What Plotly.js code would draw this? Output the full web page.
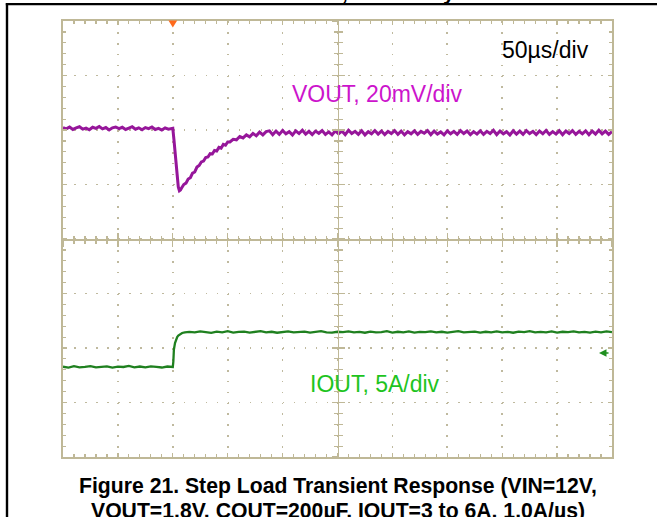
<!DOCTYPE html>
<html><head><meta charset="utf-8">
<script src="https://cdn.plot.ly/plotly-3.0.1.min.js"></script>
<style>html,body{margin:0;padding:0;background:#fff;}#chart{width:657px;height:517px;}</style>
</head><body><div id="chart"></div>
<script>
// ---- scope settings ----
const timePerDiv = 50;      // µs/div
const voutPerDiv = 20;      // mV/div
const ioutPerDiv = 5;       // A/div
const triggerTime = 100;    // µs
const voutCenter = -40.6;   // mV (deviation) at screen centre
const ioutCenter = 14.74;   // A at screen centre

// ---- VOUT (deviation from 1.8 V, mV) ----
const voutTime = [0,3,6,9,12,15,18,21,24,27,30,33,36,39,42,45,48,51,54,57,60,63,66,69,72,75,78,81,84,87,90,93,96,99,
  100,101,102,103,104,105,106,107,108,109,
  110,112,114,116,118,120,122,124,126,128,130,132,134,136,138,140,142,144,146,148,150,152,
  155,158,161,164,167,170,173,176,179,182,185,
  188,191,194,197,200,203,206,209,212,215,218,221,224,227,230,233,236,239,242,245,
  248,251,254,257,260,263,266,269,272,275,278,281,284,287,290,293,296,299,302,305,
  308,311,314,317,320,323,326,329,332,335,338,341,344,347,350,353,356,359,362,365,
  368,371,374,377,380,383,386,389,392,395,398,401,404,407,410,413,416,419,422,425,
  428,431,434,437,440,443,446,449,452,455,458,461,464,467,470,473,476,479,482,485,
  488,491,494,497,500];
const voutDev = [0.3,-0.2,0.5,-0.4,0.2,0.6,-0.3,0.1,-0.5,0.4,0.0,0.7,-0.2,0.3,-0.6,0.2,0.5,-0.1,0.4,-0.4,0.1,0.6,-0.3,0.2,-0.5,0.3,-0.1,0.5,-0.4,0.0,-0.6,0.2,-0.3,0.1,
  0,-4,-9,-14,-18.5,-21.5,-22.9,-22.6,-21.9,-21.2,
  -20.6,-20.1,-18.6,-18.1,-16.4,-16.0,-14.2,-13.6,-12.3,-12.0,-10.7,-10.5,-9.3,-9.4,-8.1,-8.3,-7.0,-7.3,-5.9,-6.2,-5.0,-5.0,
  -4.0,-4.2,-3.0,-3.5,-2.4,-3.1,-1.9,-2.7,-1.4,-2.4,-1.2,
  -0.9,-2.3,-1.0,-2.2,-0.8,-2.0,-1.2,-2.4,-0.9,-1.9,-0.7,-2.1,-1.1,-2.3,-1.0,-1.8,-0.8,-2.2,-1.3,-2.4,
  -0.9,-2.0,-1.0,-2.3,-0.7,-1.9,-1.1,-2.2,-0.9,-2.4,-1.2,-2.0,-0.8,-2.1,-1.0,-2.3,-1.1,-1.9,-0.8,-2.2,
  -1.0,-2.4,-1.2,-2.0,-0.9,-2.2,-1.1,-1.8,-0.8,-2.3,-1.0,-2.1,-1.3,-2.4,-0.9,-2.0,-1.1,-2.2,-0.8,-1.9,
  -1.0,-2.3,-1.2,-2.1,-0.9,-2.2,-1.1,-1.9,-0.7,-2.3,-1.0,-2.0,-1.2,-2.4,-0.9,-2.1,-1.0,-2.2,-0.8,-1.9,
  -1.1,-2.3,-1.0,-2.0,-0.8,-2.2,-1.2,-2.1,-0.9,-2.3,-1.0,-1.9,-0.8,-2.2,-1.1,-2.0,-0.9,-2.3,-1.0,-2.1,
  -0.7,-2.0,-1.0,-2.2,-1.2];

// ---- IOUT (A) ----
const ioutTime = [0,5,10,15,20,25,30,35,40,45,50,55,60,65,70,75,80,85,90,95,99,
  100,100.5,101,102,103,104,105,106.5,108.5,111,115,
  120,125,130,135,140,145,150,155,160,165,170,175,180,185,190,195,200,205,210,215,
  220,225,230,235,240,245,250,255,260,265,270,275,280,285,290,295,300,305,310,315,
  320,325,330,335,340,345,350,355,360,365,370,375,380,385,390,395,400,405,410,415,
  420,425,430,435,440,445,450,455,460,465,470,475,480,485,490,495,500];
const ioutAmps = [3.02,2.94,3.07,2.97,3.00,3.08,2.96,3.02,3.05,2.94,3.03,3.00,3.09,2.97,3.04,2.96,3.06,3.00,2.95,3.04,3.01,
  3.0,3.5,4.6,5.2,5.55,5.75,5.88,6.0,6.12,6.18,6.22,
  6.17,6.26,6.20,6.13,6.24,6.18,6.28,6.16,6.22,6.25,
  6.15,6.21,6.29,6.18,6.23,6.14,6.22,6.27,6.17,6.20,
  6.24,6.16,6.22,6.28,6.18,6.15,6.23,6.20,6.26,6.17,
  6.22,6.14,6.24,6.18,6.20,6.28,6.16,6.23,6.18,6.26,
  6.15,6.22,6.20,6.27,6.17,6.23,6.16,6.22,6.29,6.18,
  6.20,6.24,6.15,6.23,6.18,6.26,6.17,6.22,6.14,6.24,
  6.20,6.28,6.17,6.22,6.18,6.26,6.16,6.23,6.20,6.27,
  6.17,6.22,6.15,6.24,6.18,6.26,6.20];

// ---- texts ----
const timebaseLabel = '50µs/div';
const voutLabel = 'VOUT, 20mV/div';
const ioutLabel = 'IOUT, 5A/div';
const captionLine1 = 'Figure 21. Step Load Transient Response (VIN=12V,';
const captionLine2 = 'VOUT=1.8V, COUT=200µF, IOUT=3 to 6A, 1.0A/µs)';

// ---- layout helpers ----
const W = 657, H = 517, L = 63, R = 612, T = 21, B = 457;
const PX = x => (x - L) / (R - L);
const PY = y => (B - y) / (B - T);
const TAN = '#bfb897', DOT = '#bfb99e';
const FONT = '"Liberation Sans", Arial, sans-serif';
const nDivX = 10, nDivY = 8;

const xRange = [0, nDivX * timePerDiv];
const vRange = [voutCenter - nDivY/2 * voutPerDiv, voutCenter + nDivY/2 * voutPerDiv];
const iRange = [ioutCenter - nDivY/2 * ioutPerDiv, ioutCenter + nDivY/2 * ioutPerDiv];

const baseX = {range: xRange, tick0: 0, dtick: timePerDiv, showticklabels: false, zeroline: false, fixedrange: true};
const baseY = {range: vRange, tick0: voutCenter, dtick: voutPerDiv, showticklabels: false, zeroline: false, fixedrange: true};

// empty traces only register the centre-crosshair axes so Plotly draws them
const axisHolders = [['x2','y'],['x3','y'],['x','y3'],['x','y4']].map(([xa, ya]) =>
  ({type: 'scatter', mode: 'lines', x: [], y: [], xaxis: xa, yaxis: ya, hoverinfo: 'skip', showlegend: false}));

const traces = axisHolders.concat([
  {type: 'scatter', mode: 'lines', x: ioutTime, y: ioutAmps, xaxis: 'x', yaxis: 'y2',
   line: {color: '#1f801f', width: 2.3}, hoverinfo: 'skip', showlegend: false},
  {type: 'scatter', mode: 'lines', x: voutTime, y: voutDev, xaxis: 'x', yaxis: 'y',
   line: {color: '#96169a', width: 3}, hoverinfo: 'skip', showlegend: false}
]);

const centreTicks = (dir, minorDtick, tick0) => ({
  showgrid: false, showline: true, linecolor: TAN, linewidth: 1.5,
  ticks: dir, ticklen: 6, tickwidth: 1.3, tickcolor: TAN,
  minor: {dtick: minorDtick, tick0: tick0, ticks: dir, ticklen: 3.5, tickwidth: 1.2, tickcolor: TAN, showgrid: false}
});

const layout = {
  width: W, height: H, autosize: false,
  margin: {l: L, r: W - R, t: T, b: H - B, pad: 0},
  paper_bgcolor: '#fff', plot_bgcolor: '#fff', showlegend: false,
  xaxis: Object.assign({}, baseX, {
    showgrid: true, gridcolor: DOT, gridwidth: 1.6, griddash: '1.7px,9.2px',
    showline: true, linecolor: TAN, linewidth: 1.6, mirror: 'ticks',
    ticks: 'inside', ticklen: 4, tickwidth: 1.3, tickcolor: TAN,
    minor: {dtick: timePerDiv/5, tick0: 0, ticks: 'inside', ticklen: 2.7, tickwidth: 1.2, tickcolor: TAN, showgrid: false}
  }),
  yaxis: Object.assign({}, baseY, {
    showgrid: true, gridcolor: DOT, gridwidth: 1.6, griddash: '1.7px,9.28px',
    showline: true, linecolor: TAN, linewidth: 1.6, mirror: 'ticks',
    ticks: 'inside', ticklen: 4, tickwidth: 1.3, tickcolor: TAN,
    minor: {dtick: voutPerDiv/5, tick0: voutCenter, ticks: 'inside', ticklen: 3, tickwidth: 1.2, tickcolor: TAN, showgrid: false}
  }),
  yaxis2: {range: iRange, overlaying: 'y', showgrid: false, showline: false, ticks: '', showticklabels: false, zeroline: false, fixedrange: true},
  xaxis2: Object.assign({}, baseX, {overlaying: 'x', anchor: 'free', position: 0.5}, centreTicks('outside', timePerDiv/5, 0)),
  xaxis3: Object.assign({}, baseX, {overlaying: 'x', anchor: 'free', position: 0.5}, centreTicks('inside', timePerDiv/5, 0)),
  yaxis3: Object.assign({}, baseY, {overlaying: 'y', anchor: 'free', position: 0.5}, centreTicks('outside', voutPerDiv/5, voutCenter)),
  yaxis4: Object.assign({}, baseY, {overlaying: 'y', anchor: 'free', position: 0.5}, centreTicks('inside', voutPerDiv/5, voutCenter)),
  shapes: [
    // trigger marker
    {type: 'path', xref: 'x', yref: 'paper', layer: 'above',
     path: `M ${triggerTime-4},${PY(20.5)} L ${triggerTime+4},${PY(20.5)} L ${triggerTime},${PY(27.5)} Z`,
     fillcolor: '#ff6a1c', line: {width: 0}},
    // page frame
    {type: 'line', xref: 'paper', yref: 'paper', x0: PX(5.8), x1: PX(657), y0: PY(4.2), y1: PY(4.2), line: {color: '#000', width: 2.2}},
    {type: 'line', xref: 'paper', yref: 'paper', x0: PX(7), x1: PX(7), y0: PY(3.2), y1: PY(517), line: {color: '#000', width: 2.4}}
  ],
  annotations: [
    {text: timebaseLabel, xref: 'paper', yref: 'paper', x: PX(545), y: PY(50), showarrow: false,
     xanchor: 'center', yanchor: 'middle', font: {family: FONT, size: 23, color: '#000'}},
    {text: voutLabel, xref: 'paper', yref: 'paper', x: PX(376.5), y: PY(94), showarrow: false,
     xanchor: 'center', yanchor: 'middle', font: {family: FONT, size: 23, color: '#cc14cc'}},
    {text: ioutLabel, xref: 'paper', yref: 'paper', x: PX(374.5), y: PY(384), showarrow: false,
     xanchor: 'center', yanchor: 'middle', font: {family: FONT, size: 23, color: '#1ec41e'}},
    {text: captionLine1, xref: 'paper', yref: 'paper', x: PX(337.5), y: PY(485.7), showarrow: false,
     xanchor: 'center', yanchor: 'middle', font: {family: FONT, size: 21.2, color: '#000', weight: 'bold'}},
    {text: captionLine2, xref: 'paper', yref: 'paper', x: PX(338), y: PY(510.7), showarrow: false,
     xanchor: 'center', yanchor: 'middle', font: {family: FONT, size: 21.2, color: '#000', weight: 'bold'}},
    {text: ',', xref: 'paper', yref: 'paper', x: PX(345), y: PY(-8), showarrow: false,
     xanchor: 'center', yanchor: 'middle', font: {family: FONT, size: 21, color: '#000', weight: 'bold'}},
    {text: 'y', xref: 'paper', yref: 'paper', x: PX(449), y: PY(-8), showarrow: false,
     xanchor: 'center', yanchor: 'middle', font: {family: FONT, size: 21, color: '#000', weight: 'bold'}},
    // channel ground marker
    {text: '', xref: 'paper', yref: 'paper', x: PX(599), y: PY(353), ax: 11, ay: 0, showarrow: true,
     arrowhead: 2, arrowsize: 1, arrowwidth: 1.5, arrowcolor: '#1f8f1f'}
  ]
};

Plotly.newPlot('chart', traces, layout, {staticPlot: true, displayModeBar: false});
</script>
</body></html>
